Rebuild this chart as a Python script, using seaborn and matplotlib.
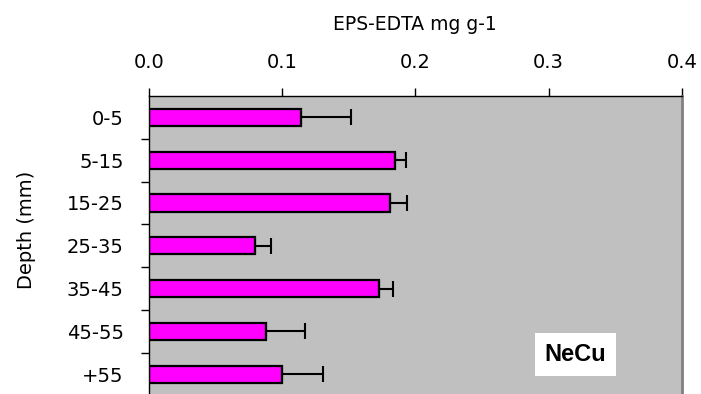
import matplotlib
matplotlib.use("Agg")
import matplotlib.pyplot as plt
import seaborn as sns
import numpy as np
import pandas as pd
from matplotlib.ticker import FixedLocator

depths = ["0-5", "5-15", "15-25", "25-35", "35-45", "45-55", "+55"]
eps_edta = [0.114, 0.185, 0.181, 0.080, 0.173, 0.088, 0.100]
err = [0.038, 0.008, 0.013, 0.012, 0.010, 0.029, 0.031]
xticks = [0.0, 0.1, 0.2, 0.3, 0.4]

sns.set_theme(style="white")
plt.rcParams['font.family'] = ['DejaVu Sans']
plt.rcParams['text.color'] = 'black'
plt.rcParams['axes.labelcolor'] = 'black'
plt.rcParams['xtick.color'] = 'black'
plt.rcParams['ytick.color'] = 'black'

df = pd.DataFrame({"depth": depths, "val": eps_edta})

fig = plt.figure(figsize=(7.01, 3.94), dpi=100)
ax = fig.add_axes([148.7/701, 1 - 395.5/394, (682 - 148.7)/701, (395.5 - 96)/394])
ax.set_facecolor("#C0C0C0")

sns.barplot(data=df, x="val", y="depth", orient="h", color="#FF00FF",
            saturation=1, width=0.4, edgecolor="black", linewidth=1.6,
            errorbar=None, ax=ax)
for p in ax.patches:
    p.set_facecolor("#FF00FF")

pos = np.arange(len(depths))
ax.errorbar(eps_edta, pos, xerr=[np.zeros(len(err)), err], fmt="none",
            ecolor="black", elinewidth=1.5, capsize=6, capthick=1.5, zorder=5)

ax.set_xlim(0, 0.4)
ax.set_ylim(len(depths) - 0.5, -0.5)
ax.xaxis.tick_top()
ax.xaxis.set_label_position("top")
ax.set_xticks(xticks)
ax.set_xticklabels([f"{v:.1f}" for v in xticks], fontsize=14)
ax.tick_params(axis="x", direction="out", length=5.5, width=1, color="black", pad=11.5)
ax.set_xlabel("EPS-EDTA mg g-1", fontsize=13.5, labelpad=17)

ax.set_ylabel("Depth (mm)", fontsize=14)
ax.yaxis.set_label_coords(-0.211, 0.553)
ax.tick_params(axis="y", which="major", length=0, labelsize=14, pad=18)
ax.yaxis.set_minor_locator(FixedLocator(np.arange(0.5, len(depths) - 0.5, 1)))
ax.tick_params(axis="y", which="minor", direction="out", length=6, width=1, color="black", left=True)

for s in ["top", "left"]:
    ax.spines[s].set_color("black")
    ax.spines[s].set_linewidth(1.0)
ax.spines["right"].set_color("#808080")
ax.spines["right"].set_linewidth(2)
ax.spines["bottom"].set_visible(False)
ax.grid(False)

ax.text(0.32, 5.54, "NeCu", fontsize=17, fontweight="bold", family="Liberation Sans",
        ha="center", va="center",
        bbox=dict(facecolor="white", edgecolor="none", pad=7))

fig.savefig("out.png", dpi=100)
